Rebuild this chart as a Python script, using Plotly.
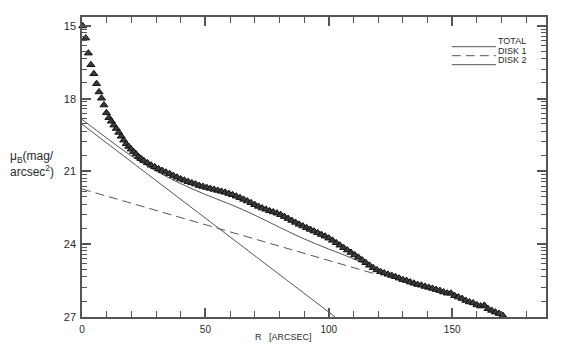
import plotly.graph_objects as go

# ---- observed profile (triangles) ----
r_inner = [0.3, 1.5, 2.6, 3.6, 4.8, 5.9, 6.9, 7.9, 8.9, 9.9, 10.9, 11.9, 12.9, 13.9,
           14.9, 15.9, 16.9, 17.9, 18.9, 19.9, 20.9, 21.9, 22.9, 23.9]
mu_inner = [15.0, 15.5, 16.12, 16.6, 16.97, 17.38, 17.72, 17.98, 18.26, 18.58, 18.78,
            18.93, 19.09, 19.23, 19.39, 19.55, 19.71, 19.86, 19.97, 20.08, 20.18,
            20.28, 20.39, 20.47]

r_outer = [25.0, 26.5, 28.0, 29.5, 31.0, 32.5, 34.0, 35.5, 37.0, 38.5, 40.0, 41.5, 43.0,
           44.5, 46.0, 47.5, 49.0, 50.5, 52.0, 53.5, 55.0, 56.5, 58.0, 59.5, 61.0, 62.5,
           64.0, 65.5, 67.0, 68.5, 70.0, 71.5, 73.0, 74.5, 76.0, 77.5, 79.0, 80.5, 82.0,
           83.5, 85.0, 86.5, 88.0, 89.5, 91.0, 92.5, 94.0, 95.5, 97.0, 98.5, 100.0, 101.5,
           103.0, 104.5, 106.0, 107.5, 109.0, 110.5, 112.0, 113.5, 115.0, 116.5, 118.0,
           119.5, 121.0, 122.5, 124.0, 125.5, 127.0, 128.5, 130.0, 131.5, 133.0, 134.5,
           136.0, 137.5, 139.0, 140.5, 142.0, 143.5, 145.0, 146.5, 148.0, 149.5, 151.0,
           152.5, 154.0, 155.5, 157.0, 158.5, 160.0, 161.5, 163.0, 164.5, 166.0, 167.5,
           169.0, 170.5]
mu_outer = [20.55, 20.64, 20.74, 20.81, 20.89, 20.96, 21.03, 21.09, 21.17, 21.24, 21.31,
            21.36, 21.42, 21.47, 21.52, 21.58, 21.62, 21.66, 21.70, 21.74, 21.78, 21.82,
            21.86, 21.91, 21.96, 22.02, 22.08, 22.15, 22.22, 22.29, 22.37, 22.44, 22.51,
            22.56, 22.62, 22.67, 22.72, 22.78, 22.86, 22.94, 23.02, 23.10, 23.18, 23.25,
            23.32, 23.39, 23.46, 23.53, 23.60, 23.67, 23.75, 23.84, 23.94, 24.04, 24.14,
            24.24, 24.34, 24.44, 24.54, 24.65, 24.76, 24.87, 24.97, 25.06, 25.13, 25.19,
            25.24, 25.29, 25.34, 25.40, 25.46, 25.50, 25.56, 25.61, 25.66, 25.69, 25.74,
            25.78, 25.82, 25.87, 25.91, 25.97, 26.02, 26.02, 26.12, 26.18, 26.24, 26.32,
            26.38, 26.42, 26.50, 26.55, 26.52, 26.66, 26.73, 26.80, 26.86, 26.94]

# ---- model components ----
r_total = [0, 10, 20, 30, 40, 50, 60, 70, 80, 90, 100, 110, 120]
mu_total = [18.85, 19.62, 20.36, 20.98, 21.5, 21.95, 22.35, 22.8, 23.3, 23.78, 24.2, 24.6, 25.08]

r_disk1 = [0, 118]
mu_disk1 = [21.72, 25.2]

r_disk2 = [0, 102.6]
mu_disk2 = [19.05, 27.0]

x_major = [0, 50, 100, 150]
x_minor = [10, 20, 30, 40, 60, 70, 80, 90, 110, 120, 130, 140, 160, 170, 180]
y_major = [15, 18, 21, 24, 27]
y_minor_offsets = [0.13, 0.27, 0.42, 0.6, 0.81, 1.04, 1.35, 1.78, 2.35]
y_minor = [b + o for b in [15, 18, 21, 24] for o in y_minor_offsets]

legend_labels = ["TOTAL", "DISK 1", "DISK 2"]

INK = "#2a2a2a"
LINE = "#555555"

fig = go.Figure()
fig.add_trace(go.Scatter(x=r_disk2, y=mu_disk2, mode="lines",
                         line=dict(color=LINE, width=1), showlegend=False))
fig.add_trace(go.Scatter(x=r_disk1, y=mu_disk1, mode="lines",
                         line=dict(color=LINE, width=1, dash="9px,5px"), showlegend=False))
fig.add_trace(go.Scatter(x=r_total, y=mu_total, mode="lines", line_shape="spline",
                         line=dict(color=LINE, width=1), showlegend=False))
fig.add_trace(go.Scatter(x=r_inner + r_outer, y=mu_inner + mu_outer, mode="markers",
                         marker=dict(symbol="triangle-up", size=7, color="#3a3a3a",
                                     line=dict(color="#111111", width=1)),
                         cliponaxis=False, showlegend=False))

axis_common = dict(showline=True, linecolor="#555555", linewidth=1.5, mirror="allticks",
                   ticks="inside", tickcolor="#555555", showgrid=False, zeroline=False,
                   tickfont=dict(family="Liberation Sans, Arial", color=INK))

fig.update_xaxes(range=[0, 188], tickmode="array", tickvals=x_major, ticklen=9, tickwidth=1.5,
                 tickfont_size=10, ticklabelstandoff=2,
                 minor=dict(tickmode="array", tickvals=x_minor, ticklen=6, ticks="inside",
                            tickcolor="#555555", tickwidth=1),
                 **axis_common)
fig.update_yaxes(range=[27, 14.63], tickmode="array", tickvals=y_major, ticklen=9, tickwidth=1.5,
                 tickfont_size=11, ticklabelstandoff=2,
                 minor=dict(tickmode="array", tickvals=y_minor, ticklen=5, ticks="inside",
                            tickcolor="#555555", tickwidth=1),
                 **axis_common)

# legend drawn as key lines with labels
leg_y = [0.901, 0.871, 0.841]
leg_dash = ["solid", "9px,5px", "solid"]
for lbl, yy, dd in zip(legend_labels, leg_y, leg_dash):
    fig.add_shape(type="line", xref="paper", yref="paper", x0=0.797, x1=0.892, y0=yy, y1=yy,
                  line=dict(color=LINE, width=1, dash=dd))
    fig.add_annotation(xref="paper", yref="paper", x=0.892, y=yy - 0.006, text=lbl,
                       showarrow=False, xanchor="left", yanchor="bottom",
                       font=dict(family="Liberation Sans, Arial", size=9, color=INK))

fig.add_annotation(xref="paper", yref="paper", x=-0.1595, y=0.51,
                   text="μ<sub>B</sub>(mag/<br>arcsec<sup>2</sup>)", showarrow=False,
                   xanchor="left", yanchor="middle", align="left",
                   font=dict(family="Liberation Sans, Arial", size=12, color=INK))
fig.add_annotation(xref="paper", yref="paper", x=0.435, y=-0.066,
                   text="R   [ARCSEC]", showarrow=False, xanchor="center", yanchor="middle",
                   font=dict(family="Liberation Sans, Arial", size=9, color=INK))

# page body has an 8px margin: figure is sized/offset so the plot box lands at 82..546 x 15..317
fig.update_layout(width=570, height=339, margin=dict(l=74, r=32, t=7, b=30),
                  paper_bgcolor="white", plot_bgcolor="white", showlegend=False)

fig.write_html("out.html")
